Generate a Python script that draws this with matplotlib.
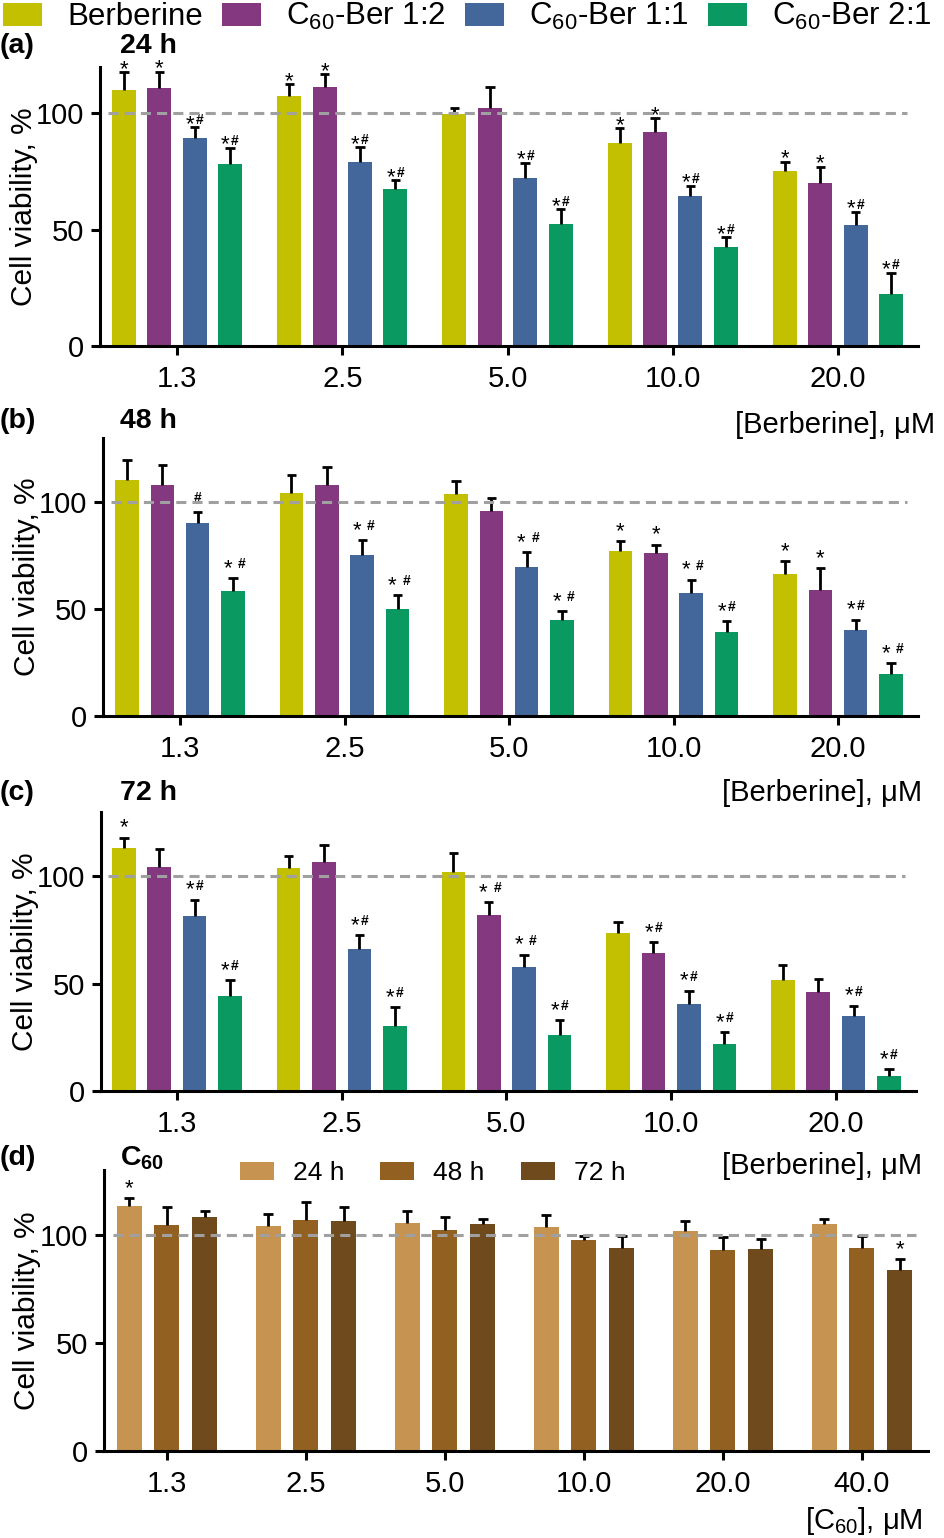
import matplotlib.pyplot as plt
import numpy as np

plt.rcParams['font.family'] = ['Liberation Sans', 'DejaVu Sans']
plt.rcParams['mathtext.fontset'] = 'custom'
plt.rcParams['mathtext.rm'] = 'Liberation Sans'
plt.rcParams['mathtext.it'] = 'Liberation Sans:italic'
plt.rcParams['mathtext.bf'] = 'Liberation Sans:bold'

# ---- data (cell viability, %) ----
ber_conc = ["1.3", "2.5", "5.0", "10.0", "20.0"]
c60_conc = ["1.3", "2.5", "5.0", "10.0", "20.0", "40.0"]

series_names = ["Berberine", r"C$_{\mathregular{60}}$-Ber 1:2",
                r"C$_{\mathregular{60}}$-Ber 1:1", r"C$_{\mathregular{60}}$-Ber 2:1"]
series_colors = ["#c2c000", "#843880", "#43679a", "#0a9960"]

# 24 h
a_ber = [110.0, 107.4, 99.6, 87.4, 75.4]
a_ber_err = [7.7, 5.2, 2.7, 6.3, 3.8]
a_12 = [111.0, 111.3, 102.3, 92.0, 70.2]
a_12_err = [7.0, 5.7, 9.3, 6.0, 7.0]
a_11 = [89.6, 79.2, 72.3, 64.7, 52.2]
a_11_err = [4.4, 6.4, 6.5, 4.3, 5.6]
a_21 = [78.2, 67.5, 52.5, 42.6, 22.2]
a_21_err = [7.1, 3.9, 6.3, 4.2, 9.4]
a_marks = [["*", "*", "", "*", "*"],
           ["*", "*", "", "*", "*"],
           ["*#", "*#", "*#", "*#", "*#"],
           ["*#", "*#", "*#", "*#", "*#"]]

# 48 h
b_ber = [110.5, 104.5, 103.6, 77.3, 66.4]
b_ber_err = [9.1, 8.0, 6.1, 4.6, 6.1]
b_12 = [108.1, 108.1, 95.8, 76.3, 58.8]
b_12_err = [9.1, 8.2, 6.1, 3.8, 10.3]
b_11 = [90.3, 75.4, 69.7, 57.5, 40.1]
b_11_err = [5.3, 6.9, 6.8, 6.3, 4.9]
b_21 = [58.3, 50.2, 44.7, 39.2, 19.7]
b_21_err = [6.0, 6.4, 4.2, 5.1, 5.1]
b_marks = [["", "", "", "*", "*"],
           ["", "", "", "*", "*"],
           ["#", "* #", "* #", "* #", "*#"],
           ["* #", "* #", "* #", "*#", "* #"]]

# 72 h
c_ber = [113.0, 103.8, 101.9, 73.5, 51.9]
c_ber_err = [5.0, 5.6, 9.2, 5.4, 6.6]
c_12 = [104.5, 106.7, 82.0, 64.2, 46.1]
c_12_err = [8.2, 8.0, 6.1, 5.0, 5.9]
c_11 = [81.4, 66.3, 58.0, 40.6, 35.0]
c_11_err = [7.7, 6.2, 5.5, 6.1, 4.7]
c_21 = [44.2, 30.5, 26.3, 22.0, 6.9]
c_21_err = [7.4, 8.6, 6.8, 5.5, 3.4]
c_marks = [["*", "", "", "", ""],
           ["", "", "* #", "*#", ""],
           ["*#", "*#", "* #", "*#", "*#"],
           ["*#", "*#", "*#", "*#", "*#"]]

# C60 alone
time_names = ["24 h", "48 h", "72 h"]
time_colors = ["#c69350", "#926020", "#6e4a1c"]
d_24 = [113.5, 103.9, 105.6, 103.4, 102.0, 104.8]
d_24_err = [3.6, 5.9, 5.4, 5.8, 4.2, 2.5]
d_48 = [104.7, 106.8, 102.3, 97.7, 93.0, 94.1]
d_48_err = [8.0, 8.3, 5.8, 1.8, 5.8, 5.2]
d_72 = [108.2, 106.5, 104.8, 94.1, 93.3, 83.6]
d_72_err = [2.7, 6.4, 2.5, 5.2, 4.7, 5.4]
d_marks = [["*", "", "", "", "", ""],
           ["", "", "", "", "", ""],
           ["", "", "", "", "", "*"]]

W, H = 944, 1538


def rect(left, right, zero, top):
    return [left / W, (H - zero) / H, (right - left) / W, (zero - top) / H]


def put_marks(ax, x, y, m, lift):
    # asterisk / hash significance marks above an error bar
    star_dy = lift
    hash_dy = lift + 4.2
    if m == "":
        return
    if m == "#":
        ax.annotate("#", (x, y), xytext=(0, hash_dy), textcoords='offset points',
                    ha='center', va='baseline', fontsize=10, fontweight='bold')
        return
    if m == "*":
        ax.annotate("*", (x, y), xytext=(0, star_dy), textcoords='offset points',
                    ha='center', va='baseline', fontsize=16)
        return
    if m == "* #":
        sx, hx = -3.8, 6.3
    else:
        sx, hx = -3.3, 3.6
    ax.annotate("*", (x, y), xytext=(sx, star_dy), textcoords='offset points',
                ha='center', va='baseline', fontsize=16)
    ax.annotate("#", (x, y), xytext=(hx, hash_dy), textcoords='offset points',
                ha='center', va='baseline', fontsize=10, fontweight='bold')


def draw_panel(ax, cats, vals, errs, marks, colors, width, step, cap, ymax, lift):
    x = np.arange(len(cats))
    n = len(vals)
    offs = (np.arange(n) - (n - 1) / 2) * step
    handles = []
    for i in range(n):
        xi = x + offs[i]
        v = np.array(vals[i])
        top = v + np.array(errs[i])
        b = ax.bar(xi, v, width, color=colors[i], zorder=2)
        handles.append(b)
        ax.vlines(xi, v, top, color='k', lw=2.0, zorder=3)
        ax.hlines(top, xi - cap, xi + cap, color='k', lw=2.0, zorder=3)
        for xx, tt, m in zip(xi, top, marks[i]):
            put_marks(ax, xx, tt, m, lift)
    ax.hlines(100, x[0] + offs[0] - width / 2 - 0.025, x[-1] + offs[-1] + width / 2 + 0.025,
              colors='#a0a0a0', linestyles=(0, (3.3, 2.0)), lw=2.2, zorder=4)
    ax.set_xticks(x)
    ax.set_xticklabels(cats)
    ax.set_ylim(0, ymax)
    ax.set_yticks([0, 50, 100])
    for s in ['top', 'right']:
        ax.spines[s].set_visible(False)
    for s in ['left', 'bottom']:
        ax.spines[s].set_linewidth(2.2)
    ax.tick_params(length=6.5, width=2.2, labelsize=21, pad=5)
    ax.tick_params(axis='x', pad=7)
    ax.set_ylabel("Cell viability, %", fontsize=21.5)
    ax.yaxis.set_label_coords(-0.076, 0.5)
    return handles


fig = plt.figure(figsize=(W / 100, H / 100), dpi=100)

ax_a = fig.add_axes(rect(100, 918, 346, 67))
ax_b = fig.add_axes(rect(103, 918, 716, 438))
ax_c = fig.add_axes(rect(101, 916, 1091, 812))
ax_d = fig.add_axes(rect(104, 928, 1451, 1170))

h = draw_panel(ax_a, ber_conc, [a_ber, a_12, a_11, a_21],
               [a_ber_err, a_12_err, a_11_err, a_21_err], a_marks,
               series_colors, 0.145, 0.214, 0.0285, 120, -2.0)
draw_panel(ax_b, ber_conc, [b_ber, b_12, b_11, b_21],
           [b_ber_err, b_12_err, b_11_err, b_21_err], b_marks,
           series_colors, 0.143, 0.215, 0.0285, 130, 3.0)
draw_panel(ax_c, ber_conc, [c_ber, c_12, c_11, c_21],
           [c_ber_err, c_12_err, c_11_err, c_21_err], c_marks,
           series_colors, 0.143, 0.215, 0.0285, 130, 3.0)
hd = draw_panel(ax_d, c60_conc, [d_24, d_48, d_72],
                [d_24_err, d_48_err, d_72_err], d_marks,
                time_colors, 0.18, 0.273, 0.036, 130, 2.5)

ax_a.set_xlim(-0.466, 4.484)
ax_b.set_xlim(-0.468, 4.486)
ax_c.set_xlim(-0.461, 4.486)
ax_d.set_xlim(-0.453, 5.475)

fig.legend(h, series_names, loc='upper left', bbox_to_anchor=(3 / W, 1 - 1 / H),
           ncol=4, frameon=False, fontsize=22.5, handlelength=1.26, handleheight=0.76,
           handletextpad=0.8, columnspacing=0.6, borderpad=0, borderaxespad=0)

ax_d.legend(hd, time_names, loc='center left', bbox_to_anchor=(0.165, 0.989),
            ncol=3, frameon=False, fontsize=19, handlelength=1.29, handleheight=0.64,
            handletextpad=0.72, columnspacing=1.36, borderpad=0, borderaxespad=0)

# panel headers
for lab, title, yc in [("(a)", "24 h", 46), ("(b)", "48 h", 421),
                       ("(c)", "72 h", 793), ("(d)", r"C$_{\mathbf{60}}$", 1158)]:
    fig.text(0.0, 1 - yc / H, lab, fontsize=20.5, fontweight='bold', ha='left', va='center')
    fig.text(120 / W, 1 - yc / H, title, fontsize=20.5, fontweight='bold', ha='left', va='center')

# axis titles
fig.text(935 / W, 1 - 425 / H, "[Berberine], μM", fontsize=21, ha='right', va='center')
fig.text(922 / W, 1 - 793 / H, "[Berberine], μM", fontsize=21, ha='right', va='center')
fig.text(922 / W, 1 - 1166 / H, "[Berberine], μM", fontsize=21, ha='right', va='center')
fig.text(923 / W, 1 - 1521 / H, r"[C$_{\mathregular{60}}$], μM", fontsize=21, ha='right', va='center')

plt.savefig('out.png', dpi=100)
